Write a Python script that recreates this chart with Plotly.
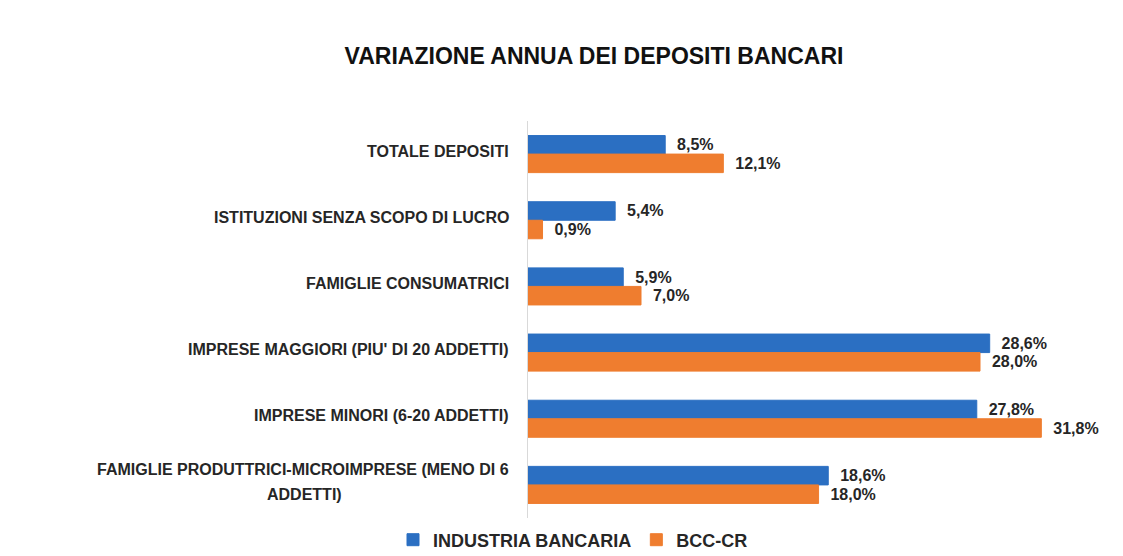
import plotly.graph_objects as go

categories = [
    "TOTALE DEPOSITI",
    "ISTITUZIONI SENZA SCOPO DI LUCRO",
    "FAMIGLIE CONSUMATRICI",
    "IMPRESE MAGGIORI (PIU' DI 20 ADDETTI)",
    "IMPRESE MINORI (6-20 ADDETTI)",
    "FAMIGLIE PRODUTTRICI-MICROIMPRESE (MENO DI 6<br>ADDETTI)",
]
industria_bancaria = [8.5, 5.4, 5.9, 28.6, 27.8, 18.6]
bcc_cr = [12.1, 0.9, 7.0, 28.0, 31.8, 18.0]
series_names = ["INDUSTRIA BANCARIA", "BCC-CR"]
title_text = "VARIAZIONE ANNUA DEI DEPOSITI BANCARI"

FONT = "Liberation Sans, Arial, sans-serif"
BLUE = "#2B6FC2"
ORANGE = "#EF7D2F"
TXT = "#262626"
LABEL_SIZE = 16

# the page body has an 8px margin, so the figure is drawn 8px smaller
W, H = 1115, 548
OFF = 8
LINE_GAP = 25

# approximate Arial-bold glyph widths (em) used to centre wrapped label lines
GLYPH_W = {"M": .833, "I": .278, "-": .333, " ": .278, "(": .333, ")": .333, "'": .238,
           "6": .556, "0": .556, "2": .556, "T": .611, "L": .611, "F": .611, "E": .667,
           "S": .667, "P": .667, "O": .778, "G": .778}


def fmt(v):
    return "\u00a0\u00a0" + f"{v:.1f}%".replace(".", ",")


fig = go.Figure()
for name, vals, col in [(series_names[0], industria_bancaria, BLUE),
                        (series_names[1], bcc_cr, ORANGE)]:
    fig.add_trace(go.Bar(
        name=name,
        y=categories,
        x=vals,
        orientation="h",
        marker=dict(color=col, line=dict(color=col, width=1)),
        text=[fmt(v) for v in vals],
        textposition="outside",
        constraintext="none",
        cliponaxis=False,
        textfont=dict(family=FONT, size=16, color=TXT, weight="bold"),
        hoverinfo="skip",
    ))

annotations = []
for c in categories:
    lines = c.split("<br>")
    n = len(lines)
    first_w = sum(GLYPH_W.get(ch, .722) for ch in lines[0]) * LABEL_SIZE
    for i, ln in enumerate(lines):
        annotations.append(dict(
            x=0, xref="paper", y=c, yref="y",
            xanchor="right" if i == 0 else "center",
            yanchor="middle",
            xshift=-17 if i == 0 else -17 - first_w / 2,
            yshift=3 + ((n - 1) / 2 - i) * LINE_GAP,
            text=ln, showarrow=False,
            font=dict(family=FONT, size=LABEL_SIZE, color=TXT, weight="bold"),
        ))

fig.update_layout(
    width=W, height=H,
    paper_bgcolor="white", plot_bgcolor="white",
    margin=dict(l=528 - OFF, r=30, t=121 - OFF, b=H - (518 - OFF), autoexpand=False),
    barmode="group", bargap=0.44, bargroupgap=0,
    title=dict(text=f"<b>{title_text}</b>", x=(594 - OFF) / W, xref="container",
               xanchor="center", y=1 - (56 - OFF) / H, yref="container", yanchor="middle",
               font=dict(family=FONT, size=23, color="#111111")),
    xaxis=dict(range=[0, 35], visible=False, fixedrange=True),
    yaxis=dict(categoryorder="array", categoryarray=categories,
               autorange="reversed", showticklabels=False, ticks="",
               showgrid=False, zeroline=False, showline=True,
               linecolor="#D9D9D9", linewidth=1),
    legend=dict(orientation="h", xref="container", yref="container",
                x=(393 - OFF) / W, xanchor="left", y=1 - (540 - OFF) / H, yanchor="middle",
                font=dict(family=FONT, size=18, color=TXT, weight="bold"),
                traceorder="normal", itemwidth=30),
    annotations=annotations,
    showlegend=True,
)

fig.write_html("out.html")
